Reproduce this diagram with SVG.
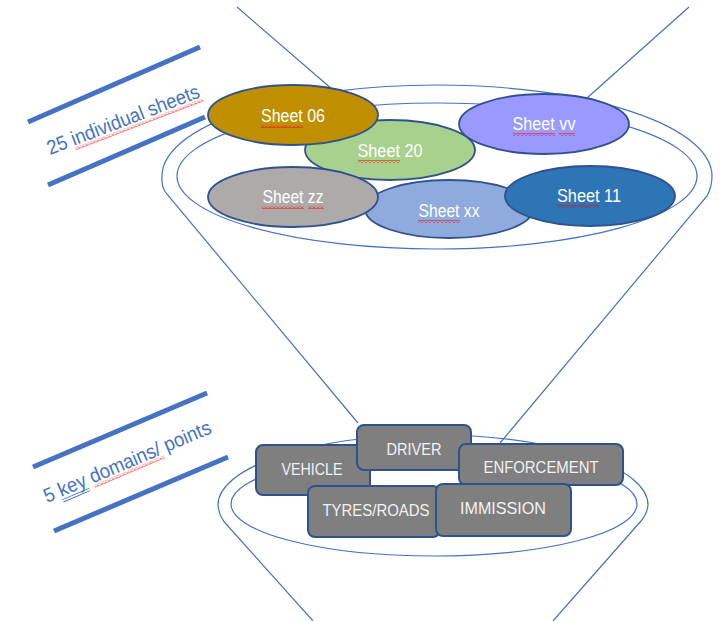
<svg xmlns="http://www.w3.org/2000/svg" width="720" height="621" viewBox="0 0 720 621">
  <style>
    .rim { fill: none; stroke: #4472C4; stroke-width: 1.2; }
    .bar { stroke: #4472C4; stroke-width: 5; stroke-linecap: butt; }
    .note { font-family: "Liberation Sans", Arial, sans-serif; font-size: 20px; fill: #4472C4; }
    .sheet ellipse { stroke: #2F528F; stroke-width: 1.8; }
    .sheet text { font-family: "Liberation Sans", Arial, sans-serif; font-size: 17.5px; fill: #FFFFFF; text-anchor: middle; }
    .box rect { fill: #7F7F7F; stroke: #2F528F; stroke-width: 2; }
    .box text { font-family: "Liberation Sans", Arial, sans-serif; font-size: 17px; fill: #F2F2F2; text-anchor: middle; }
    .squiggle { fill: url(#wave); }
  </style>
  <defs>
    <pattern id="wave" width="4" height="3" patternUnits="userSpaceOnUse">
      <path d="M0,2.5 L2,0.5 L4,2.5" fill="none" stroke="#FF0000" stroke-width="1"/>
    </pattern>
  </defs>

  <rect width="720" height="621" fill="#FFFFFF"/>

  <!-- funnel outlines -->
  <g id="connectors">
    <path class="rim" d="M237,7 L333,90"/>
    <path class="rim" d="M689,7 L587,98"/>
    <path class="rim" d="M358,423 L166,193 Q161,186 162,176 A275,91 0 0 1 712,176 Q712,187 707,196 L500,443"/>
    <ellipse class="rim" cx="437" cy="176" rx="260" ry="73"/>
    <path class="rim" d="M313,621 L227,525 Q219,517 218,505 A215,70 0 0 1 648,505 Q647,514 641,521 L553,621"/>
    <ellipse class="rim" cx="434" cy="504" rx="203" ry="52"/>
  </g>

  <!-- side notes -->
  <g id="note-sheets">
    <line class="bar" x1="28" y1="122" x2="200" y2="47"/>
    <line class="bar" x1="48" y1="185" x2="205" y2="117"/>
    <g transform="translate(50,155) rotate(-21)">
      <text class="note" x="0" y="0" textLength="162" lengthAdjust="spacingAndGlyphs">25 individual sheets</text>
      <rect class="squiggle" x="26" y="2" width="137" height="3"/>
    </g>
  </g>
  <g id="note-domains">
    <line class="bar" x1="33" y1="467" x2="207" y2="393"/>
    <line class="bar" x1="54" y1="531" x2="228" y2="457"/>
    <g transform="translate(47,503) rotate(-23)">
      <text class="note" x="0" y="0" textLength="180" lengthAdjust="spacingAndGlyphs">5 key domains/ points</text>
      <line x1="15.5" y1="3" x2="44.5" y2="3" stroke="#4472C4" stroke-width="0.9"/>
      <line x1="15.5" y1="5.5" x2="44.5" y2="5.5" stroke="#4472C4" stroke-width="0.9"/>
      <rect class="squiggle" x="50" y="2" width="76" height="3"/>
    </g>
  </g>

  <!-- sheets -->
  <g id="sheet-20" class="sheet">
    <ellipse cx="390" cy="150" rx="85" ry="30" fill="#A9D18E"/>
    <text x="390" y="157" textLength="65" lengthAdjust="spacingAndGlyphs">Sheet 20</text>
    <rect class="squiggle" x="358" y="160" width="42" height="3"/>
  </g>
  <g id="sheet-06" class="sheet">
    <ellipse cx="293" cy="115" rx="85" ry="30" fill="#BF8F00"/>
    <text x="293" y="122" textLength="64" lengthAdjust="spacingAndGlyphs">Sheet 06</text>
    <rect class="squiggle" x="261" y="125" width="42" height="3"/>
  </g>
  <g id="sheet-vv" class="sheet">
    <ellipse cx="544" cy="124" rx="85" ry="30" fill="#9999FF"/>
    <text x="544" y="130" textLength="63" lengthAdjust="spacingAndGlyphs">Sheet vv</text>
    <rect class="squiggle" x="513" y="133" width="42" height="3"/>
    <rect class="squiggle" x="559" y="133" width="16" height="3"/>
  </g>
  <g id="sheet-xx" class="sheet">
    <ellipse cx="449" cy="209" rx="84" ry="29" fill="#8FAADC"/>
    <text x="449" y="217" textLength="61" lengthAdjust="spacingAndGlyphs">Sheet xx</text>
    <rect class="squiggle" x="418" y="220" width="42" height="3"/>
  </g>
  <g id="sheet-zz" class="sheet">
    <ellipse cx="293" cy="197" rx="85" ry="30" fill="#AEAAAA"/>
    <text x="293" y="203" textLength="61" lengthAdjust="spacingAndGlyphs">Sheet zz</text>
    <rect class="squiggle" x="262" y="206" width="42" height="3"/>
    <rect class="squiggle" x="308" y="206" width="16" height="3"/>
  </g>
  <g id="sheet-11" class="sheet">
    <ellipse cx="590" cy="196" rx="85" ry="30" fill="#2E75B6"/>
    <text x="589" y="202" textLength="64" lengthAdjust="spacingAndGlyphs">Sheet 11</text>
    <rect class="squiggle" x="557" y="205" width="42" height="3"/>
  </g>

  <!-- key domains -->
  <g id="box-vehicle" class="box">
    <rect x="256" y="445" width="114" height="50" rx="7"/>
    <text x="312" y="475" textLength="61" lengthAdjust="spacingAndGlyphs">VEHICLE</text>
  </g>
  <g id="box-driver" class="box">
    <rect x="357" y="425" width="114" height="45" rx="7"/>
    <text x="414" y="455" textLength="55" lengthAdjust="spacingAndGlyphs">DRIVER</text>
  </g>
  <g id="box-enforcement" class="box">
    <rect x="459" y="444" width="164" height="41" rx="7"/>
    <text x="541" y="473" textLength="115" lengthAdjust="spacingAndGlyphs">ENFORCEMENT</text>
  </g>
  <g id="box-tyres" class="box">
    <rect x="308" y="486" width="132" height="51" rx="7"/>
    <text x="376" y="516" textLength="107" lengthAdjust="spacingAndGlyphs">TYRES/ROADS</text>
  </g>
  <g id="box-immission" class="box">
    <rect x="436" y="484" width="135" height="52" rx="7"/>
    <text x="503" y="514" textLength="86" lengthAdjust="spacingAndGlyphs">IMMISSION</text>
  </g>
</svg>
